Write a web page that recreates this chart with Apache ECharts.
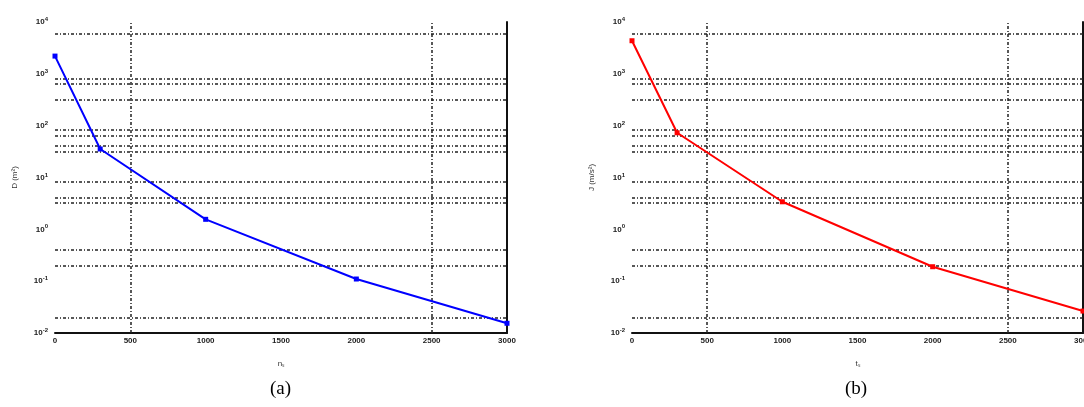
<!DOCTYPE html>
<html lang="en">
<head>
    <meta charset="UTF-8">
    <title>Charts</title>
    <script src="https://cdn.jsdelivr.net/npm/echarts@6/dist/echarts.min.js"></script>
</head>
<body style="margin:0;background:#fff;">
<div id="main" style="width:1084px;height:407px;"></div>

<script type="text/javascript">
    // data
    var xVals = [0, 300, 1000, 2000, 3000];
    var dVals = [2200, 35.5, 1.56, 0.11, 0.0154];   // (a) blue
    var jVals = [4350, 73, 3.4, 0.19, 0.0265];      // (b) red
    var xTicks = [0, 500, 1000, 1500, 2000, 2500, 3000];
    // dotted grid lines as they show up in the picture
    var hGrid = [6000, 820, 640, 310, 82, 64, 41, 31.5, 8.3, 4.1, 3.2, 0.41, 0.205, 0.0206];
    var vGrid = [500, 2500];

    var myChart = echarts.init(document.getElementById('main'));

    var dotted = {color: '#222', width: 1.5, type: [3, 2, 1, 2]};

    function gridLines() {
        var d = [];
        hGrid.forEach(function (v) { d.push({yAxis: v}); });
        vGrid.forEach(function (v) { d.push({xAxis: v}); });
        return {
            silent: true,
            symbol: 'none',
            label: {show: false},
            lineStyle: dotted,
            data: d
        };
    }

    function xAxis(idx, name) {
        return {
            type: 'value',
            gridIndex: idx,
            min: xTicks[0],
            max: xTicks[xTicks.length - 1],
            interval: 500,
            name: name,
            nameLocation: 'middle',
            nameGap: 27,
            nameTextStyle: {fontSize: 8, color: '#333'},
            axisLine: {show: true, onZero: false, lineStyle: {color: '#111', width: 2}},
            axisTick: {show: false},
            splitLine: {show: false},
            axisLabel: {
                fontSize: 8, fontWeight: 'bold', color: '#222', margin: 4,
                formatter: function (v) { return String(v); }
            }
        };
    }

    function yAxis(idx, name) {
        return {
            type: 'log',
            logBase: 10,
            gridIndex: idx,
            min: 0.01,
            max: 10000,
            splitNumber: 6,
            name: name,
            nameLocation: 'middle',
            nameGap: 36,
            nameRotate: 90,
            nameTextStyle: {fontSize: 8, color: '#333'},
            axisLine: {show: false},
            axisTick: {show: false},
            splitLine: {show: false},
            axisLabel: {
                margin: 7,
                formatter: function (v) {
                    var e = Math.round(Math.log10(v));
                    return '{b|10}{s|' + e + '}';
                },
                rich: {
                    b: {fontSize: 8, fontWeight: 'bold', color: '#222'},
                    s: {fontSize: 6, fontWeight: 'bold', color: '#222', verticalAlign: 'top', padding: [0, 0, 5, 0]}
                }
            }
        };
    }

    function borderAxis(idx) {
        return {
            type: 'log',
            logBase: 10,
            gridIndex: idx,
            position: 'right',
            min: 0.01,
            max: 10000,
            axisLine: {show: true, lineStyle: {color: '#111', width: 2}},
            axisTick: {show: false},
            axisLabel: {show: false},
            splitLine: {show: false}
        };
    }

    function pairs(ys) {
        return xVals.map(function (x, i) { return [x, ys[i]]; });
    }

    option = {
        backgroundColor: '#fff',
        animation: false,
        grid: [
            {left: 55, right: 577, top: 22, bottom: 74, outerBoundsMode: 'none', containLabel: false},
            {left: 632, right: 1, top: 22, bottom: 74, outerBoundsMode: 'none', containLabel: false}
        ],
        xAxis: [xAxis(0, 'n\u209b'), xAxis(1, 't\u209b')],
        yAxis: [yAxis(0, 'D (m\u00b2)'), yAxis(1, 'J (m/s\u00b2)'), borderAxis(0), borderAxis(1)],
        graphic: [
            {type: 'text', left: 270, top: 380, style: {text: '(a)', font: '19px "Liberation Serif"', fill: '#000'}},
            {type: 'text', left: 845, top: 380, style: {text: '(b)', font: '19px "Liberation Serif"', fill: '#000'}}
        ],
        series: [
            {
                type: 'line',
                xAxisIndex: 0,
                yAxisIndex: 0,
                data: pairs(dVals),
                symbol: 'rect',
                symbolSize: 5,
                itemStyle: {color: '#0000ff'},
                lineStyle: {color: '#0000ff', width: 2},
                markLine: gridLines(),
                z: 5
            },
            {
                type: 'line',
                xAxisIndex: 1,
                yAxisIndex: 1,
                data: pairs(jVals),
                symbol: 'rect',
                symbolSize: 5,
                itemStyle: {color: '#ff0000'},
                lineStyle: {color: '#ff0000', width: 2},
                markLine: gridLines(),
                z: 5
            }
        ]
    };
    myChart.setOption(option);
</script>
</body>
</html>
